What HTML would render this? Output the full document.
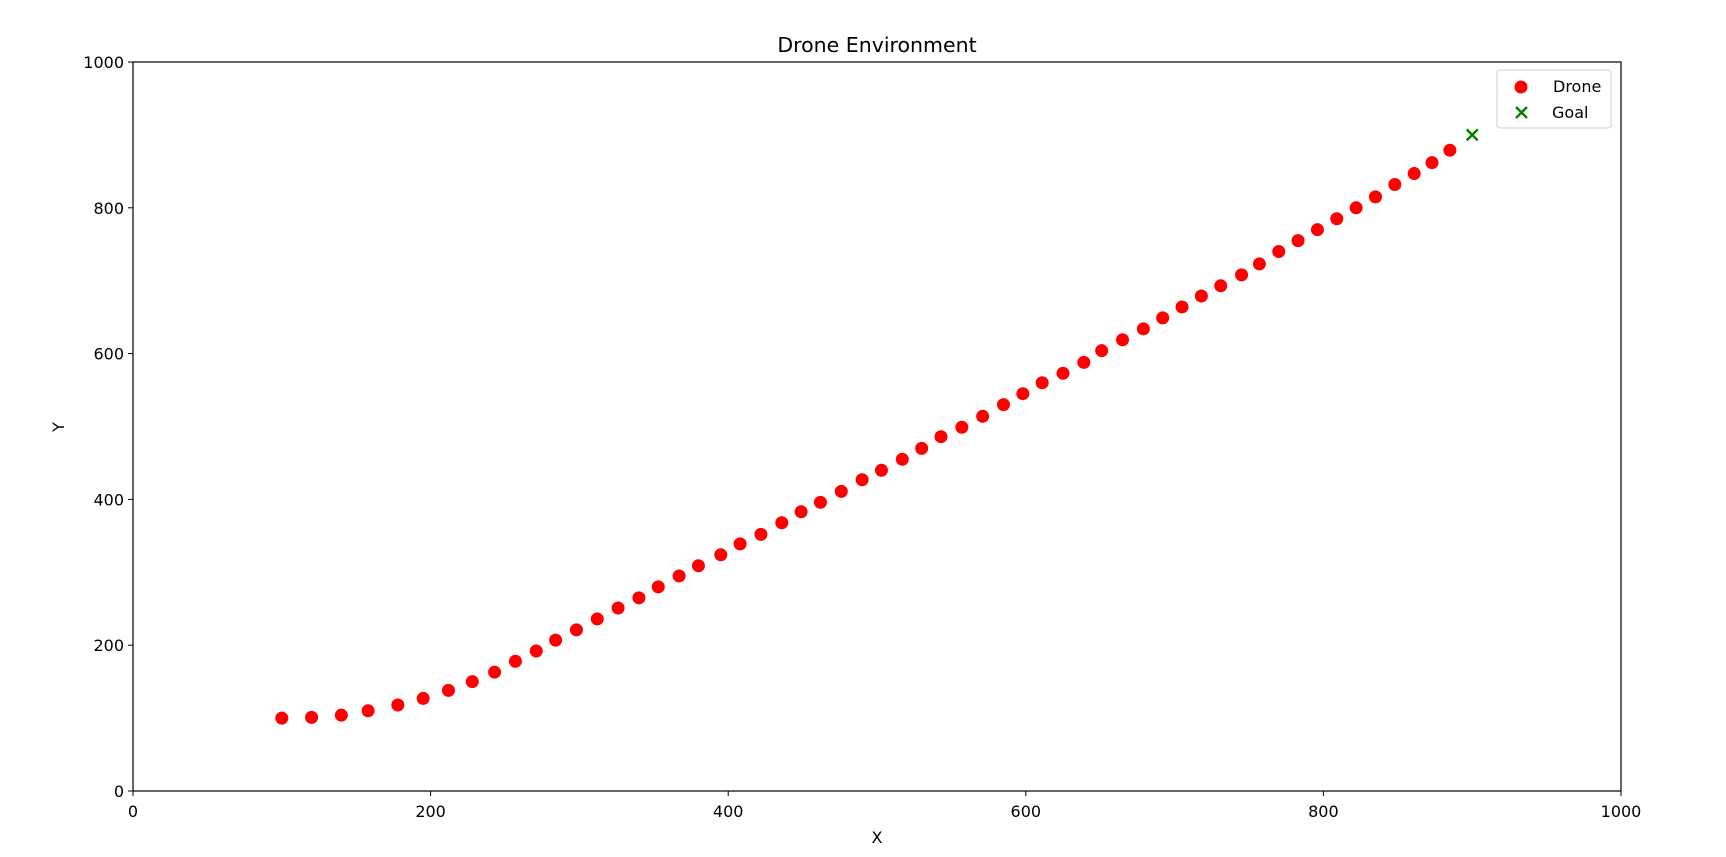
<!DOCTYPE html>
<html><head><meta charset="utf-8"><style>
body{margin:0;background:#fff;}
svg text{font-family:"DejaVu Sans","Liberation Sans",sans-serif;fill:#000;}
</style></head><body>
<svg id="chart" width="1726" height="852" xmlns="http://www.w3.org/2000/svg">
<rect width="1726" height="852" fill="#fff"/>
<text x="877" y="52" font-size="20.5" text-anchor="middle">Drone Environment</text>
<text x="877" y="843" font-size="16" text-anchor="middle">X</text>
<text x="0" y="0" font-size="16" text-anchor="middle" transform="translate(64,427) rotate(-90)">Y</text>
<g id="ticks"></g>
<g id="marks"></g>
<rect x="133" y="62" width="1488" height="729" fill="none" stroke="#000" stroke-width="1.2"/>
<g>
<rect x="1497" y="70" width="114" height="58" rx="3" fill="#fff" stroke="#d6d6d6" stroke-width="1.2"/>
<circle cx="1521" cy="87" r="6.5" fill="#ff0000"/>
<text x="1553" y="92" font-size="16">Drone</text>
<path d="M1516 107 L1527 118 M1527 107 L1516 118" stroke="#008000" stroke-width="2.4"/>
<text x="1552" y="118" font-size="16">Goal</text>
</g>
</svg>
<script>
const droneX=[100,120,140,158,178,195,212,228,243,257,271,284,298,312,326,340,353,367,380,395,408,422,436,449,462,476,490,503,517,530,543,557,571,585,598,611,625,639,651,665,679,692,705,718,731,745,757,770,783,796,809,822,835,848,861,873,885];
const droneY=[100,101,104,110,118,127,138,150,163,178,192,207,221,236,251,265,280,295,309,324,339,352,368,383,396,411,427,440,455,470,486,499,514,530,545,560,573,588,604,619,634,649,664,679,693,708,723,740,755,770,785,800,815,832,847,862,879];
const goalX=[900];
const goalY=[900];
const xTicks=[0,200,400,600,800,1000];
const yTicks=[0,200,400,600,800,1000];
const NS="http://www.w3.org/2000/svg";
const L=133,R=1621,T=62,B=791;
function sx(v){return L+(v/1000)*(R-L);}
function sy(v){return B-(v/1000)*(B-T);}
const tg=document.getElementById('ticks');
const mg=document.getElementById('marks');
xTicks.forEach(t=>{
  const l=document.createElementNS(NS,'line');
  l.setAttribute('x1',sx(t));l.setAttribute('x2',sx(t));l.setAttribute('y1',B);l.setAttribute('y2',B+5);
  l.setAttribute('stroke','#000');
  
  
  tg.appendChild(l);
  const tx=document.createElementNS(NS,'text');
  tx.setAttribute('x',sx(t));tx.setAttribute('y',B+26);tx.setAttribute('font-size','16');tx.setAttribute('text-anchor','middle');
  tx.textContent=t;
  
  
  tg.appendChild(tx);
});
yTicks.forEach(t=>{
  const l=document.createElementNS(NS,'line');
  l.setAttribute('x1',L-5);l.setAttribute('x2',L);l.setAttribute('y1',sy(t));l.setAttribute('y2',sy(t));
  l.setAttribute('stroke','#000');
  
  
  tg.appendChild(l);
  const tx=document.createElementNS(NS,'text');
  tx.setAttribute('x',L-9);tx.setAttribute('y',sy(t)+6);tx.setAttribute('font-size','16');tx.setAttribute('text-anchor','end');
  tx.textContent=t;
  
  
  tg.appendChild(tx);
});
droneX.forEach((x,i)=>{
  const c=document.createElementNS(NS,'circle');
  c.setAttribute('cx',sx(x));c.setAttribute('cy',sy(droneY[i]));c.setAttribute('r','6.5');c.setAttribute('fill','#ff0000');
  
  
  mg.appendChild(c);
});
goalX.forEach((x,i)=>{
  const cx=sx(x),cy=sy(goalY[i]);
  const p=document.createElementNS(NS,'path');
  p.setAttribute('d',`M${cx-5.5} ${cy-5.5} L${cx+5.5} ${cy+5.5} M${cx+5.5} ${cy-5.5} L${cx-5.5} ${cy+5.5}`);
  p.setAttribute('stroke','#008000');p.setAttribute('stroke-width','2.4');
  
  
  mg.appendChild(p);
});
</script>
</body></html>
